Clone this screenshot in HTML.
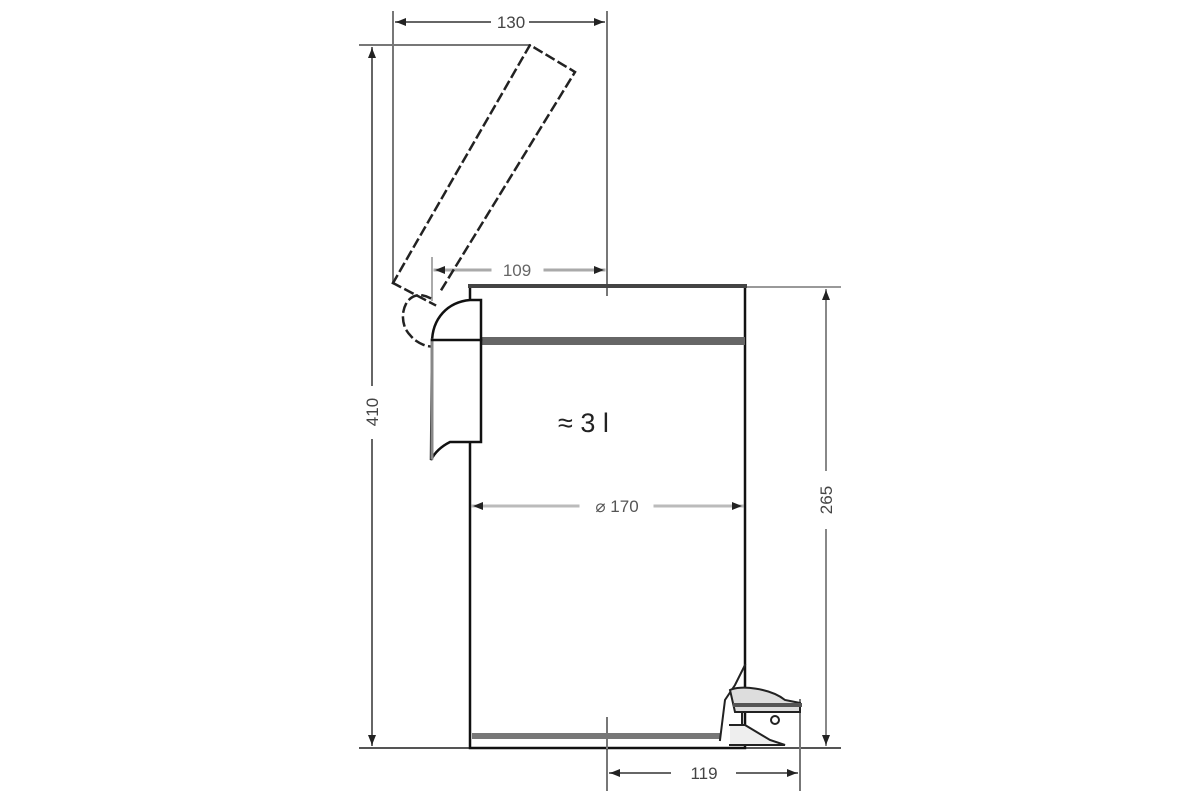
<!DOCTYPE html>
<html><head><meta charset="utf-8"><style>
html,body{margin:0;padding:0;background:#fff;width:1200px;height:800px;overflow:hidden}
svg{display:block}
text{font-family:"Liberation Sans",sans-serif}
</style></head><body>
<svg width="1200" height="800" viewBox="0 0 1200 800" xmlns="http://www.w3.org/2000/svg">
<defs>
<marker id="a" viewBox="0 0 10 10" refX="10" refY="5" markerWidth="10" markerHeight="10" markerUnits="userSpaceOnUse" orient="auto-start-reverse"><path d="M0,1 L10,5 L0,9 Z" fill="#222"/></marker>
</defs>
<g fill="none" stroke-linecap="square">
<!-- extension lines -->
<line x1="393" y1="12" x2="393" y2="283" stroke="#777" stroke-width="2"/>
<line x1="607" y1="12" x2="607" y2="295" stroke="#777" stroke-width="2"/>
<line x1="360" y1="45" x2="530" y2="45" stroke="#777" stroke-width="2"/>
<line x1="432" y1="258" x2="432" y2="300" stroke="#aaa" stroke-width="2"/>
<line x1="745" y1="287" x2="840" y2="287" stroke="#999" stroke-width="2"/>
<line x1="360" y1="748" x2="840" y2="748" stroke="#555" stroke-width="2"/>
<line x1="607" y1="718" x2="607" y2="790" stroke="#777" stroke-width="2"/>
<line x1="800" y1="700" x2="800" y2="790" stroke="#777" stroke-width="2"/>
<!-- 130 -->
<line x1="396" y1="22" x2="490" y2="22" stroke="#666" stroke-width="2" marker-start="url(#a)"/>
<line x1="530" y1="22" x2="604" y2="22" stroke="#666" stroke-width="2" marker-end="url(#a)"/>
<!-- 109 -->
<line x1="435" y1="270" x2="490" y2="270" stroke="#aaa" stroke-width="3" marker-start="url(#a)"/>
<line x1="545" y1="270" x2="604" y2="270" stroke="#aaa" stroke-width="3" marker-end="url(#a)"/>
<!-- 410 -->
<line x1="372" y1="48" x2="372" y2="385" stroke="#666" stroke-width="2" marker-start="url(#a)"/>
<line x1="372" y1="440" x2="372" y2="745" stroke="#666" stroke-width="2" marker-end="url(#a)"/>
<!-- 265 -->
<line x1="826" y1="290" x2="826" y2="470" stroke="#888" stroke-width="2" marker-start="url(#a)"/>
<line x1="826" y1="530" x2="826" y2="745" stroke="#888" stroke-width="2" marker-end="url(#a)"/>
<!-- 170 -->
<line x1="473" y1="506" x2="578" y2="506" stroke="#bbb" stroke-width="3" marker-start="url(#a)"/>
<line x1="655" y1="506" x2="742" y2="506" stroke="#bbb" stroke-width="3" marker-end="url(#a)"/>
<!-- 119 -->
<line x1="610" y1="773" x2="670" y2="773" stroke="#666" stroke-width="2" marker-start="url(#a)"/>
<line x1="737" y1="773" x2="797" y2="773" stroke="#666" stroke-width="2" marker-end="url(#a)"/>
<!-- dashed lid -->
<g stroke="#222" stroke-width="2.5" stroke-dasharray="8,6">
<path d="M393,283 L530,45 L575,72 L440,292"/>
<path d="M430,298 C405,285 395,320 410,335 C418,345 430,348 438,346"/>
<path d="M393,283 L435,305"/>
</g>
<!-- body -->
<rect x="470" y="286" width="275" height="462" stroke="#111" stroke-width="2.5"/>
<rect x="478" y="337" width="267" height="8" fill="#666" stroke="none"/>
<line x1="470" y1="286" x2="745" y2="286" stroke="#444" stroke-width="4"/>
<rect x="472" y="733" width="248" height="6" fill="#777" stroke="none"/>
<line x1="607" y1="718" x2="607" y2="748" stroke="#777" stroke-width="2"/>
<!-- handle -->
<path d="M432,343 C432,318 448,302 470,300 L481,300 L481,442 L450,442 C442,446 435,452 431,460 Z" fill="#fff" stroke="#111" stroke-width="2.5"/>
<line x1="432" y1="340" x2="432" y2="458" stroke="#888" stroke-width="3"/>
<line x1="432" y1="340" x2="481" y2="340" stroke="#111" stroke-width="2.5"/>
<!-- pedal -->
<g stroke="#222" stroke-width="2">
<path d="M745,665 L735,685 L725,700 L720,740"/>
<path d="M730,690 C740,685 770,688 785,700 L800,703 L800,712 L735,712 Z" fill="#ddd"/>
<line x1="735" y1="705" x2="800" y2="705" stroke="#555" stroke-width="4"/>
<path d="M730,725 L745,725 L770,740 L785,745 L730,745" fill="#eee"/>
<circle cx="775" cy="720" r="4" fill="#fff"/>
<line x1="742" y1="712" x2="742" y2="725"/>
</g>
</g>
<g fill="#444" font-size="17">
<text x="511" y="28" text-anchor="middle">130</text>
<text x="517" y="276" text-anchor="middle" fill="#666">109</text>
<text x="617" y="512" text-anchor="middle" fill="#555">⌀ 170</text>
<text x="704" y="779" text-anchor="middle">119</text>
<text transform="translate(378,412) rotate(-90)" text-anchor="middle">410</text>
<text transform="translate(832,500) rotate(-90)" text-anchor="middle">265</text>
</g>
<text x="558" y="432" font-size="27" fill="#222">≈ 3 l</text>
</svg>
</body></html>
